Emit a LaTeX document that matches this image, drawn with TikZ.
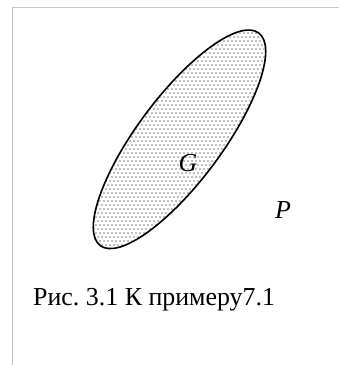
\documentclass[tikz,border=0pt]{standalone}
\usepackage{fontspec}
\setmainfont{Liberation Serif}
\frenchspacing
\begin{document}
\begin{tikzpicture}[x=1bp,y=1bp,
  frameline/.style={draw=black!22, line width=1.6bp},
  outline/.style={draw=black, line width=1.6bp},
  dotfill/.style={fill=black!50},
  lbl/.style={inner sep=0pt, font=\fontsize{26}{30}\selectfont\itshape},
  captext/.style={inner sep=0pt, anchor=base west, font=\fontsize{26}{30}\selectfont}]
\useasboundingbox (0,0) rectangle (339,365);
\draw[frameline] (12.5,0) -- (12.5,357.5) -- (339,357.5);
\coordinate (C) at (179.5,225.7);
\begin{scope}
  \clip[shift={(C)}, rotate=53.3] (0,0) ellipse [x radius=132.6, y radius=42.3];
  \foreach \j in {0,...,58} {
    \foreach \i in {0,...,46} {
      \fill[dotfill] ({90+\i*4+mod(\j,2)*2}, {112+\j*4}) circle (0.8);
    }
  }
\end{scope}
\draw[outline, shift={(C)}, rotate=53.3] (0,0) ellipse [x radius=132.6, y radius=42.3];
\node[lbl] (G) at (188,202) {G};
\node[lbl] (P) at (283,155) {P};
\node[captext] (caption) at (33,60) {Рис. 3.1 К примеру7.1};
\end{tikzpicture}
\end{document}
